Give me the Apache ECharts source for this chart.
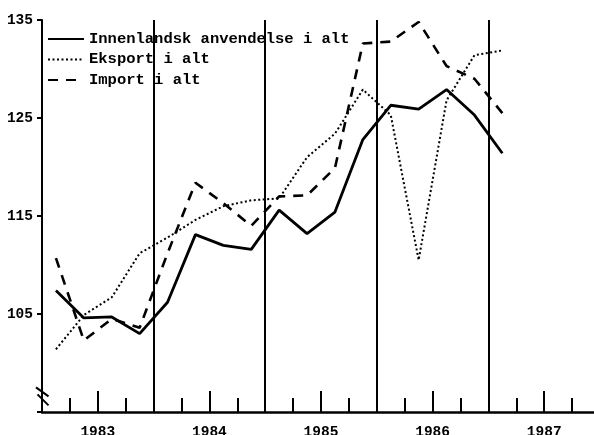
<!DOCTYPE html>
<html>
<head>
<meta charset="utf-8">
<script src="https://cdn.jsdelivr.net/npm/echarts@6/dist/echarts.min.js"></script>
<style>
  html, body { margin: 0; padding: 0; background: #fff; }
  #chart { width: 594px; height: 435px; }
</style>
</head>
<body>
<div id="chart"></div>
<script>
// Quarterly observations 1983 K1 – 1987 K1
const quarters = ['1983 K1','1983 K2','1983 K3','1983 K4','1984 K1','1984 K2','1984 K3','1984 K4',
                  '1985 K1','1985 K2','1985 K3','1985 K4','1986 K1','1986 K2','1986 K3','1986 K4','1987 K1'];
const innenlandsk = [107.4, 104.6, 104.7, 103.0, 106.2, 113.1, 112.0, 111.6, 115.6, 113.2, 115.4, 122.8, 126.3, 125.9, 127.9, 125.3, 121.4];
const eksport     = [101.4, 104.9, 106.7, 111.2, 112.8, 114.6, 116.0, 116.6, 116.8, 121.0, 123.4, 127.9, 125.3, 110.5, 126.8, 131.4, 131.9];
const importIalt  = [110.7, 102.3, 104.5, 103.6, 111.2, 118.4, 116.3, 114.0, 117.0, 117.1, 119.9, 132.6, 132.8, 134.8, 130.3, 129.0, 125.5];
const seriesNames = ['Innenlandsk anvendelse i alt', 'Eksport i alt', 'Import i alt'];
const yearLabels = ['1983', '1984', '1985', '1986', '1987'];
const yMin = 95, yMax = 135, yStep = 10;

const toPoints = arr => arr.map((v, i) => [i + 0.5, v]);
const FONT = "'Liberation Mono', 'DejaVu Sans Mono', monospace";

const chart = echarts.init(document.getElementById('chart'), null, { renderer: 'canvas' });

const option = {
  animation: false,
  backgroundColor: '#ffffff',
  grid: { left: 42, width: 558, top: 20, height: 392, containLabel: false, outerBoundsMode: 'none' },
  legend: {
    orient: 'vertical',
    left: 47, top: 31,
    itemWidth: 36, itemHeight: 10, itemGap: 4.5,
    padding: 0,
    itemStyle: { color: 'rgba(0,0,0,0)', borderWidth: 0, opacity: 0 },
    textStyle: { fontFamily: FONT, fontSize: 15.5, fontWeight: 'bold', color: '#000', lineHeight: 16 },
    data: seriesNames
  },
  xAxis: [
    {
      type: 'value', min: 0, max: quarters.length + 3, interval: 2, position: 'bottom',
      axisLine: { show: true, lineStyle: { color: '#000', width: 2.5 } },
      axisTick: { show: true, inside: true, length: 21, lineStyle: { color: '#000', width: 2 } },
      minorTick: { show: true, splitNumber: 2, length: 14, lineStyle: { color: '#000', width: 2 } },
      splitLine: { show: false },
      axisLabel: {
        show: true, margin: 13, fontFamily: FONT, fontSize: 14.5, fontWeight: 'bold', color: '#000',
        formatter: v => (v % 4 === 2 ? yearLabels[(v - 2) / 4] : '')
      }
    },
    {
      type: 'value', min: 0, max: quarters.length + 3, interval: 4, position: 'bottom',
      axisLine: { show: false }, axisTick: { show: false }, axisLabel: { show: false },
      splitLine: { show: true, lineStyle: { color: '#000', width: 2 } }
    }
  ],
  yAxis: {
    type: 'value', min: yMin, max: yMax, interval: yStep,
    axisLine: { show: true, lineStyle: { color: '#000', width: 2 } },
    axisTick: { show: true, length: 5, lineStyle: { color: '#000', width: 2 } },
    splitLine: { show: false },
    axisLabel: {
      margin: 9, fontFamily: FONT, fontSize: 14.5, fontWeight: 'bold', color: '#000',
      formatter: v => (v === yMin ? '' : String(v))
    }
  },
  series: [
    {
      name: seriesNames[0], type: 'line', xAxisIndex: 0, data: toPoints(innenlandsk),
      symbol: 'none', lineStyle: { color: '#000', width: 2.8, type: 'solid' }, itemStyle: { color: '#000' }
    },
    {
      name: seriesNames[1], type: 'line', xAxisIndex: 0, data: toPoints(eksport),
      symbol: 'none', lineStyle: { color: '#000', width: 2, type: [2, 2.5] }, itemStyle: { color: '#000' }
    },
    {
      name: seriesNames[2], type: 'line', xAxisIndex: 0, data: toPoints(importIalt),
      symbol: 'none', lineStyle: { color: '#000', width: 2.6, type: [10, 8] }, itemStyle: { color: '#000' }
    }
  ]
};
chart.setOption(option);

// axis-break marks on the value axis
const p = chart.convertToPixel({ gridIndex: 0 }, [0, 97]);
const ax = p[0], py = p[1];
chart.setOption({
  graphic: [
    { type: 'line', shape: { x1: ax - 6, y1: py - 5, x2: ax + 6.5, y2: py + 4 }, style: { stroke: '#000', lineWidth: 2 } },
    { type: 'line', shape: { x1: ax - 4.5, y1: py + 2, x2: ax + 6.5, y2: py + 13 }, style: { stroke: '#000', lineWidth: 2 } }
  ]
});
</script>
</body>
</html>
